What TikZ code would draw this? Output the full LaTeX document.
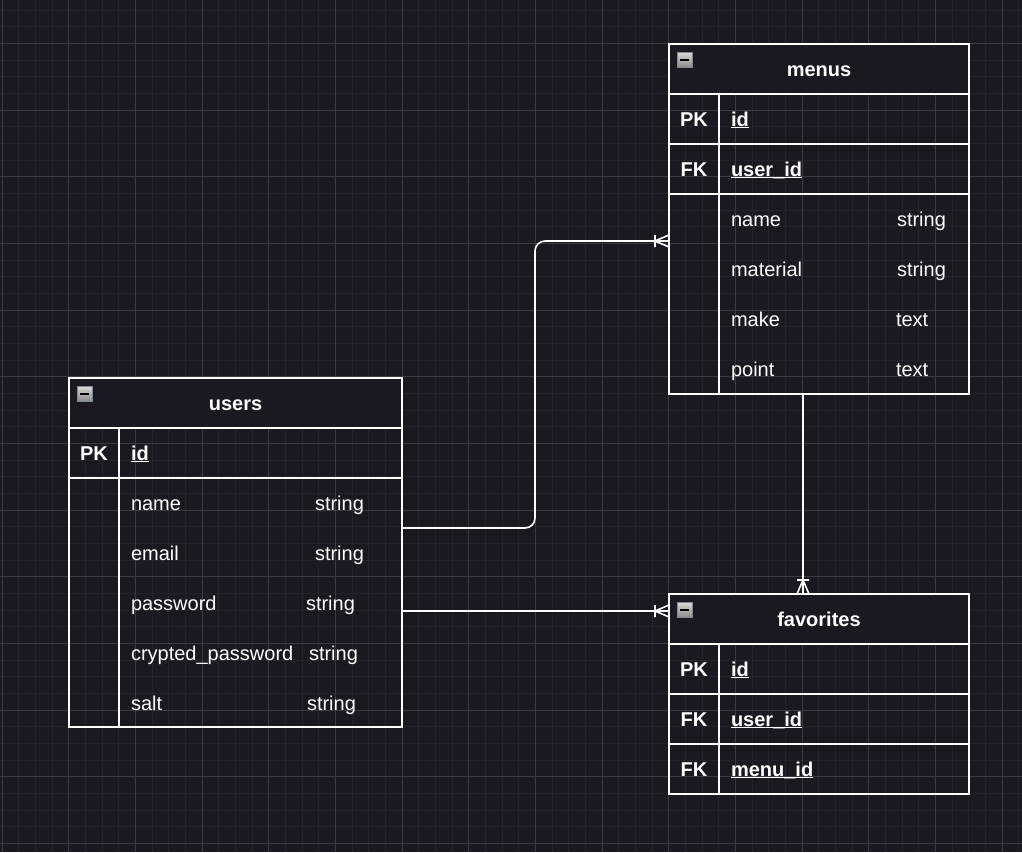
\documentclass[tikz,border=0pt]{standalone}
\usepackage{fontspec}
\setmainfont{Liberation Sans}
\usetikzlibrary{calc}
\definecolor{sfondo}{HTML}{1A1820}
\definecolor{grigliafine}{HTML}{24222A}
\definecolor{grigliaforte}{HTML}{3C3A42}
\definecolor{bordoicona}{HTML}{7F8796}
\newcommand{\sottolinea}[1]{\textbf{$\underline{\smash{\hbox{\bfseries #1}}}$}}
\tikzset{
  every node/.style={text=white, inner sep=0pt, outer sep=0pt, text height=18pt, text depth=4pt, font=\fontsize{20}{24}\selectfont},
  riquadro/.style={draw=white, line width=1.6pt, anchor=north west, minimum width=300pt, minimum height=50pt},
  testata/.style={riquadro, fill=sfondo, font=\bfseries\fontsize{20}{24}\selectfont},
  chiave/.style={riquadro, minimum width=50pt, font=\bfseries\fontsize{20}{24}\selectfont},
  campo/.style={anchor=west},
  icona/.style={draw=bordoicona, line width=0.8pt, anchor=north west, minimum size=15pt, text height=, text depth=, top color=black!15, bottom color=black!45,
    path picture={\draw[black, line width=2pt] ([xshift=3pt]path picture bounding box.west) -- ([xshift=-3pt]path picture bounding box.east);}},
  legame/.style={draw=white, line width=1.6pt, rounded corners=10pt},
  zampa/.pic={\draw[white, line width=1.6pt] (-14,-6) -- (-14,6) (0,-6) -- (-14,0) -- (0,6);}
}
\begin{document}
\begin{tikzpicture}[x=1pt,y=-1pt]
    %sfondo e griglia
    \fill[sfondo] (0,0) rectangle (1022,852);
    \useasboundingbox (0,0) rectangle (1022,852);
    \begin{scope}
        \clip (0,0) rectangle (1022,852);
        \foreach \i in {0,...,61} \draw[grigliafine, line width=1pt] ({2+16.667*\i},0) -- ++(0,852);
        \foreach \i in {0,...,50} \draw[grigliafine, line width=1pt] (0,{10+16.667*\i}) -- ++(1022,0);
        \foreach \i in {0,...,15} \draw[grigliaforte, line width=1pt] ({2+66.667*\i},0) -- ++(0,852);
        \foreach \i in {0,...,12} \draw[grigliaforte, line width=1pt] (0,{43.33+66.667*\i}) -- ++(1022,0);
    \end{scope}

    %tabella menus
    \node[riquadro, minimum height=350pt] (menus) at (669,44) {};
    \node[testata] (menus-t) at (menus.north west) {menus};
    \node[icona] at ([shift={(8pt,-8pt)}]menus-t.north west) {};
    \node[riquadro] (menus-pk) at (menus-t.south west) {};
    \node[chiave] (menus-pk-k) at (menus-pk.north west) {PK};
    \node[campo] at ([xshift=12pt]menus-pk-k.east) {\sottolinea{id}};
    \node[riquadro] (menus-fk) at (menus-pk.south west) {};
    \node[chiave] (menus-fk-k) at (menus-fk.north west) {FK};
    \node[campo] at ([xshift=12pt]menus-fk-k.east) {\sottolinea{user\_id}};
    \node[riquadro, minimum height=200pt] (menus-attr) at (menus-fk.south west) {};
    \node[chiave, minimum height=200pt] (menus-attr-k) at (menus-attr.north west) {};
    \foreach \nome/\tipo/\dx [count=\i] in {name/string/166, material/string/166, make/text/165, point/text/165}{
        \node[campo] (menus-a\i) at ([shift={(12pt,{-25pt-50pt*(\i-1)})}]menus-attr-k.north east) {\nome};
        \node[campo] at ([xshift=\dx pt]menus-a\i.west) {\tipo};
    }

    %tabella users
    \node[riquadro, minimum width=333pt, minimum height=349pt] (users) at (69,378) {};
    \node[testata, minimum width=333pt] (users-t) at (users.north west) {users};
    \node[icona] at ([shift={(8pt,-8pt)}]users-t.north west) {};
    \node[riquadro, minimum width=333pt] (users-pk) at (users-t.south west) {};
    \node[chiave] (users-pk-k) at (users-pk.north west) {PK};
    \node[campo] at ([xshift=12pt]users-pk-k.east) {\sottolinea{id}};
    \node[riquadro, minimum width=333pt, minimum height=249pt] (users-attr) at (users-pk.south west) {};
    \node[chiave, minimum height=249pt] (users-attr-k) at (users-attr.north west) {};
    \foreach \nome/\tipo/\dx [count=\i] in {name/string/184, email/string/184, password/string/175, crypted\_password/string/178, salt/string/176}{
        \node[campo] (users-a\i) at ([shift={(12pt,{-25pt-50pt*(\i-1)})}]users-attr-k.north east) {\nome};
        \node[campo] at ([xshift=\dx pt]users-a\i.west) {\tipo};
    }

    %tabella favorites
    \node[riquadro, minimum height=200pt] (favorites) at (669,594) {};
    \node[testata] (favorites-t) at (favorites.north west) {favorites};
    \node[icona] at ([shift={(8pt,-8pt)}]favorites-t.north west) {};
    \node[riquadro] (favorites-pk) at (favorites-t.south west) {};
    \node[chiave] (favorites-pk-k) at (favorites-pk.north west) {PK};
    \node[campo] at ([xshift=12pt]favorites-pk-k.east) {\sottolinea{id}};
    \node[riquadro] (favorites-fk1) at (favorites-pk.south west) {};
    \node[chiave] (favorites-fk1-k) at (favorites-fk1.north west) {FK};
    \node[campo] at ([xshift=12pt]favorites-fk1-k.east) {\sottolinea{user\_id}};
    \node[riquadro] (favorites-fk2) at (favorites-fk1.south west) {};
    \node[chiave] (favorites-fk2-k) at (favorites-fk2.north west) {FK};
    \node[campo] at ([xshift=12pt]favorites-fk2-k.east) {\sottolinea{menu\_id}};

    %legami
    \coordinate (u-out1) at ([yshift=-50pt]users-attr.north east);
    \coordinate (u-out2) at ([yshift=-133pt]users-attr.north east);
    \coordinate (m-in) at ([yshift=-47pt]menus-attr.north west);
    \coordinate (f-in) at ([yshift=-17pt]favorites.north west);
    \coordinate (m-out) at ([xshift=-16pt]menus.south);
    \coordinate (f-top) at (m-out |- favorites.north);
    \draw[legame] (u-out1) -- ++(133,0) |- (m-in);
    \draw[legame] (u-out2) -- (f-in);
    \draw[legame] (m-out) -- (f-top);
    \pic at (m-in) {zampa};
    \pic at (f-in) {zampa};
    \pic[rotate=-90] at (f-top) {zampa};
\end{tikzpicture}
\end{document}
